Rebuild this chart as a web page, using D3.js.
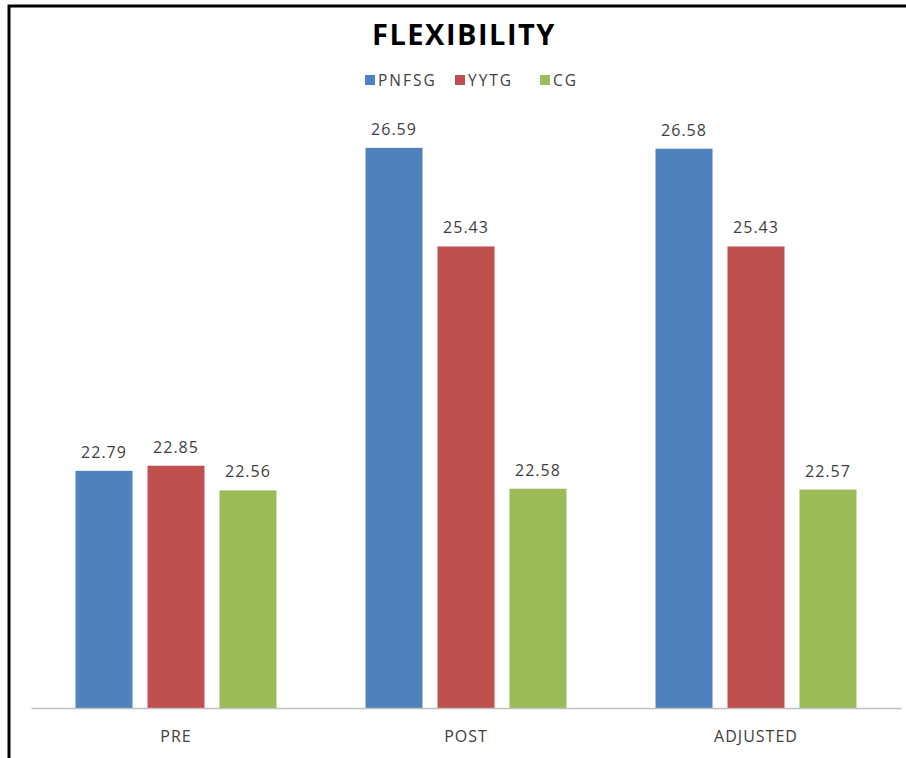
<!DOCTYPE html>
<html>
<head>
<meta charset="utf-8">
<script src="https://cdn.jsdelivr.net/npm/d3@7"></script>
<style>
  body { margin: 0; background: #fff; }
  svg { display: block; }
  text { font-family: "Open Sans", sans-serif; }
</style>
</head>
<body>
<div id="wrapper"></div>
<script>
// data
const categories = ["PRE", "POST", "ADJUSTED"]
const seriesNames = ["PNFSG", "YYTG", "CG"]
const pnfsgValues = [22.79, 26.59, 26.58]
const yytgValues = [22.85, 25.43, 25.43]
const cgValues = [22.56, 22.58, 22.57]
const seriesColors = ["#4f81bd", "#c0504d", "#9bbb59"]

const seriesValues = [pnfsgValues, yytgValues, cgValues]
const dataset = categories.map((c, i) => ({
  category: c,
  values: seriesNames.map((s, j) => ({ series: s, value: seriesValues[j][i] }))
}))

// dimensions
let dimensions = {
  width: 906,
  height: 758,
  margins: { top: 28, right: 5, bottom: 50, left: 31 },
}
dimensions.boundedWidth = dimensions.width - dimensions.margins.left - dimensions.margins.right
dimensions.boundedHeight = dimensions.height - dimensions.margins.top - dimensions.margins.bottom

const wrapper = d3.select("#wrapper")
  .append("svg")
  .attr("width", dimensions.width)
  .attr("height", dimensions.height)

// frame (cropped screenshot border)
wrapper.append("path")
  .attr("d", "M9,758 V6 H906")
  .attr("fill", "none")
  .attr("stroke", "#000")
  .attr("stroke-width", 3)

const bounds = wrapper.append("g")
  .attr("transform", `translate(${dimensions.margins.left},${dimensions.margins.top})`)

// scales
const x0Scale = d3.scaleBand()
  .domain(categories)
  .range([0, 870])
  .paddingInner(0.307)
  .paddingOuter(0.1535)

const x1Scale = d3.scaleBand()
  .domain(seriesNames)
  .range([0, x0Scale.bandwidth()])
  .paddingInner(0.208)

const yScale = d3.scaleLinear()
  .domain([20, 28])
  .range([dimensions.boundedHeight, 0])

const colorScale = d3.scaleOrdinal().domain(seriesNames).range(seriesColors)

// bars
const groups = bounds.selectAll(".group")
  .data(dataset)
  .join("g")
  .attr("class", "group")
  .attr("transform", d => `translate(${x0Scale(d.category)},0)`)

groups.selectAll("rect")
  .data(d => d.values)
  .join("rect")
  .attr("x", d => x1Scale(d.series))
  .attr("y", d => yScale(d.value))
  .attr("width", x1Scale.bandwidth())
  .attr("height", d => yScale(20) - yScale(d.value))
  .attr("fill", d => colorScale(d.series))

groups.selectAll(".value-label")
  .data(d => d.values)
  .join("text")
  .attr("class", "value-label")
  .attr("x", d => x1Scale(d.series) + x1Scale.bandwidth() / 2)
  .attr("y", d => yScale(d.value) - 13)
  .attr("text-anchor", "middle")
  .attr("fill", "#404040")
  .style("font-size", "16px")
  .style("letter-spacing", "1px")
  .text(d => d3.format(".2f")(d.value))

// x axis
const xAxisGenerator = d3.axisBottom(x0Scale).tickSize(0).tickPadding(23)
const xAxis = bounds.append("g")
  .attr("transform", `translate(0,${dimensions.boundedHeight})`)
  .call(xAxisGenerator)

xAxis.select(".domain").attr("stroke", "#bfbfbf").attr("stroke-width", 1.5)
xAxis.selectAll(".tick text")
  .attr("fill", "#404040")
  .style("font-size", "16px")
  .style("letter-spacing", "1px")
  .style("font-family", "'Open Sans', sans-serif")

// title
wrapper.append("text")
  .attr("x", 464)
  .attr("y", 45)
  .attr("text-anchor", "middle")
  .attr("fill", "#000")
  .style("font-size", "29px")
  .style("font-weight", "bold")
  .style("letter-spacing", "1.5px")
  .text("FLEXIBILITY")

// legend
const legendX = [365, 455, 540]
const legend = wrapper.selectAll(".legend")
  .data(seriesNames)
  .join("g")
  .attr("class", "legend")
  .attr("transform", (d, i) => `translate(${legendX[i]},80)`)

legend.append("rect")
  .attr("x", 0)
  .attr("y", -5)
  .attr("width", 10)
  .attr("height", 10)
  .attr("fill", d => colorScale(d))

legend.append("text")
  .attr("x", 13)
  .attr("y", 5.5)
  .attr("fill", "#404040")
  .style("font-size", "15.5px")
  .style("letter-spacing", "2px")
  .text(d => d)
</script>
</body>
</html>
